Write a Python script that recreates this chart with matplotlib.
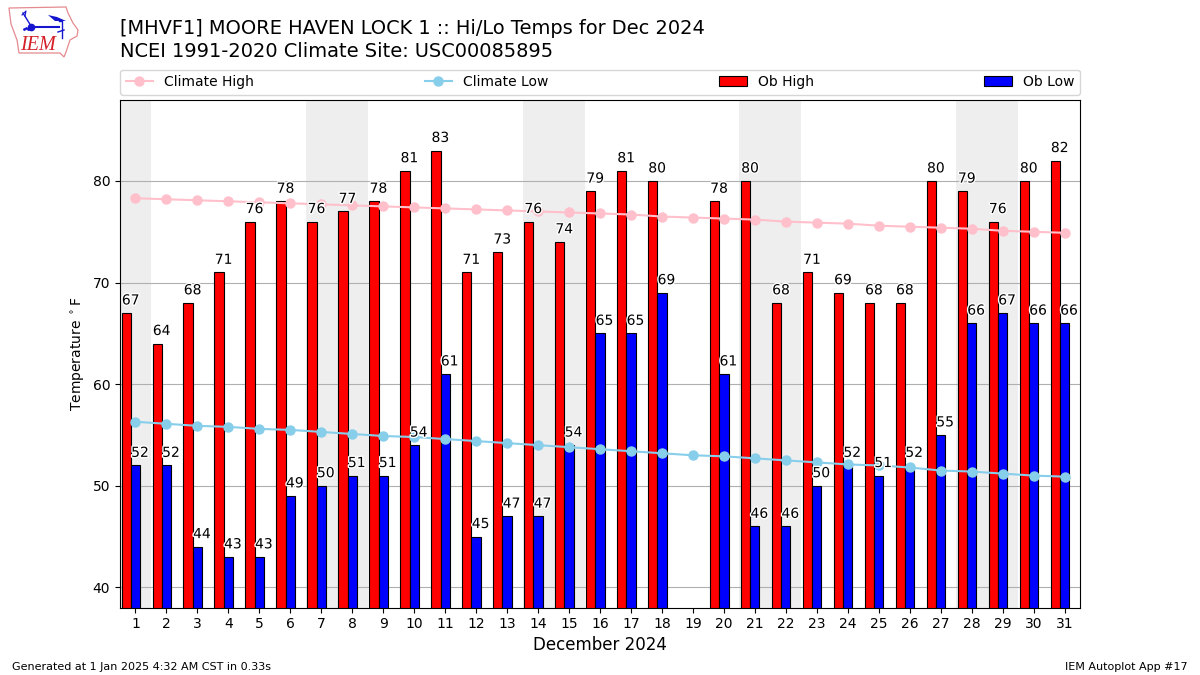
import matplotlib
matplotlib.use("Agg")
import matplotlib.pyplot as plt
import matplotlib.patheffects as pe
from matplotlib.patches import Polygon

days = list(range(1, 32))
ob_high = [67, 64, 68, 71, 76, 78, 76, 77, 78, 81, 83, 71, 73, 76, 74, 79, 81, 80, None, 78, 80, 68, 71, 69, 68, 68, 80, 79, 76, 80, 82]
ob_low = [52, 52, 44, 43, 43, 49, 50, 51, 51, 54, 61, 45, 47, 47, 54, 65, 65, 69, None, 61, 46, 46, 50, 52, 51, 52, 55, 66, 67, 66, 66]
climate_high = [78.3, 78.2, 78.1, 78.0, 77.9, 77.8, 77.7, 77.6, 77.5, 77.4, 77.3, 77.2, 77.1, 77.0, 76.9, 76.8, 76.7, 76.5, 76.4, 76.3, 76.2, 76.0, 75.9, 75.8, 75.6, 75.5, 75.4, 75.3, 75.1, 75.0, 74.9]
climate_low = [56.3, 56.1, 55.9, 55.8, 55.6, 55.5, 55.3, 55.1, 54.9, 54.8, 54.6, 54.4, 54.2, 54.0, 53.8, 53.6, 53.4, 53.2, 53.0, 52.9, 52.7, 52.5, 52.3, 52.1, 52.0, 51.8, 51.5, 51.4, 51.2, 51.0, 50.9]
weekends = [(0.5, 1.5), (6.5, 8.5), (13.5, 15.5), (20.5, 22.5), (27.5, 29.5)]

title_lines = ["[MHVF1] MOORE HAVEN LOCK 1 :: Hi/Lo Temps for Dec 2024",
               "NCEI 1991-2020 Climate Site: USC00085895"]

W, H = 1200, 675
fig = plt.figure(figsize=(12, 6.75), dpi=100)
ax = fig.add_axes([120 / W, 1 - 607.7 / H, 960 / W, 508 / H])
ax.set_axisbelow(True)

for a, b in weekends:
    ax.axvspan(a, b, color="#eeeeee", lw=0, zorder=0)
ax.yaxis.grid(True, color="#b0b0b0", lw=0.8, zorder=1)

hx = [d for d, v in zip(days, ob_high) if v is not None]
hv = [v for v in ob_high if v is not None]
lx = [d for d, v in zip(days, ob_low) if v is not None]
lv = [v for v in ob_low if v is not None]
w = 0.3
ax.bar([x - w for x in hx], hv, width=w, color="red", edgecolor="k", lw=0.8, label="Ob High", zorder=2)
ax.bar(lx, lv, width=w, color="blue", edgecolor="k", lw=0.8, label="Ob Low", zorder=2)
ax.plot(days, climate_high, color="pink", marker="o", ms=6.5, lw=1.5, label="Climate High", zorder=3)
ax.plot(days, climate_low, color="skyblue", marker="o", ms=6.5, lw=1.5, label="Climate Low", zorder=3)

halo = [pe.withStroke(linewidth=2, foreground="white")]
for x, v in zip(hx, hv):
    ax.text(x - 0.44, v + 0.55, str(v), ha="left", va="bottom", fontsize=10, color="k", path_effects=halo, zorder=5)
for x, v in zip(lx, lv):
    ax.text(x - 0.14, v + 0.55, str(v), ha="left", va="bottom", fontsize=10, color="k", path_effects=halo, zorder=5)

ax.set_xlim(0.5, 31.5)
ax.set_ylim(38, 88)
ax.set_xticks(days)
ax.set_yticks([40, 50, 60, 70, 80])
ax.tick_params(labelsize=10)
ax.set_xlabel("December 2024", fontsize=12, labelpad=3)
ax.set_ylabel(r"Temperature $^\circ$F", fontsize=10)

handles, labels = ax.get_legend_handles_labels()
order = [labels.index(n) for n in ["Climate High", "Climate Low", "Ob High", "Ob Low"]]
ax.legend([handles[i] for i in order], [labels[i] for i in order], ncol=4, mode="expand",
          loc="lower left", bbox_to_anchor=(0, 1.01, 1, 0.05), borderaxespad=0, fontsize=10)

fig.text(120 / W, 1 - 61 / H, "\n".join(title_lines), fontsize=13.98, ha="left", va="bottom", linespacing=1.27)
fig.text(12 / W, 1 - 672 / H, "Generated at 1 Jan 2025 4:32 AM CST in 0.33s", fontsize=8, ha="left", va="bottom")
fig.text(1188 / W, 1 - 672 / H, "IEM Autoplot App #17", fontsize=8, ha="right", va="bottom")

# logo, drawn in pixel coordinates of the figure
lg = fig.add_axes([0, 1 - 60 / H, 90 / W, 60 / H])
lg.set_xlim(0, 90)
lg.set_ylim(60, 0)
lg.axis("off")
outline = [(9, 8), (66, 7), (68, 13), (73, 23), (78, 30), (77, 36), (70, 40), (68, 46), (66, 52), (64, 57), (60, 53), (19, 53), (17, 40), (11, 24)]
lg.add_patch(Polygon(outline, closed=True, fill=False, ec="#e58a8f", lw=0.9))
lg.plot([31, 59], [26.5, 26.5], color="#1515d0", lw=1.5)
lg.plot([31], [26.5], "o", color="#1515d0", ms=4.5)
lg.plot([31, 23], [26, 13], color="#1515d0", lw=1)
lg.plot([22, 26, 25], [15, 11, 16], color="#1515d0", lw=0.8)
lg.fill([48, 57, 66, 55], [15, 17, 21, 21], color="#1515d0", lw=0)
lg.plot([59, 62, 62], [21, 21, 38], color="#1515d0", lw=1)
lg.plot([58, 64], [32, 30], color="#1515d0", lw=1)
lg.plot([24, 26, 28], [29, 28, 29], ".", color="#1515d0", ms=2)
lg.text(20, 45, "IEM", fontsize=14.5, family="Liberation Serif", style="italic", color="#d62028", ha="left", va="center")

fig.savefig("out.png", dpi=100)
